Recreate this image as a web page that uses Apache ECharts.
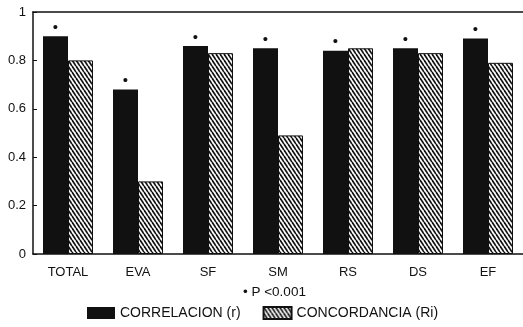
<!DOCTYPE html>
<html>
<head>
<meta charset="utf-8">
<script src="https://cdn.jsdelivr.net/npm/echarts@6/dist/echarts.min.js"></script>
<style>
html,body{margin:0;padding:0;background:#fff;}
#c{width:523px;height:327px;}
</style>
</head>
<body>
<div id="c"></div>
<script>
const categories = ['TOTAL', 'EVA', 'SF', 'SM', 'RS', 'DS', 'EF'];
const correlacion = [0.90, 0.68, 0.86, 0.85, 0.84, 0.85, 0.89];
const concordancia = [0.80, 0.30, 0.83, 0.49, 0.85, 0.83, 0.79];
const yTicks = [0, 0.2, 0.4, 0.6, 0.8, 1];

function makeHatch() {
  const w = 4, h = 6;
  const cv = document.createElement('canvas');
  cv.width = w; cv.height = h;
  const ctx = cv.getContext('2d');
  ctx.fillStyle = '#ffffff';
  ctx.fillRect(0, 0, w, h);
  ctx.strokeStyle = '#111111';
  ctx.lineWidth = 1.7;
  for (let o = -w; o <= w; o += w) {
    ctx.beginPath();
    ctx.moveTo(o, 0);
    ctx.lineTo(o + w, h);
    ctx.stroke();
  }
  return cv;
}
const hatch = { image: makeHatch(), repeat: 'repeat' };
const font = 'Liberation Sans, Arial, sans-serif';

const chart = echarts.init(document.getElementById('c'), null, { renderer: 'canvas' });
chart.setOption({
  animation: false,
  backgroundColor: '#ffffff',
  textStyle: { fontFamily: font, color: '#111' },
  grid: { left: 33, right: 0, top: 12, bottom: 73 },
  legend: {
    top: 306,
    left: 87,
    padding: 0,
    itemWidth: 28,
    itemHeight: 12,
    itemGap: 22,
    icon: 'rect',
    textStyle: { fontFamily: font, fontSize: 14, color: '#111' },
    data: ['CORRELACION (r)', 'CONCORDANCIA (Ri)']
  },
  graphic: [{
    type: 'text',
    left: 243,
    top: 285,
    style: { text: '• P <0.001', font: '13.5px ' + font, fill: '#111' }
  }],
  xAxis: [{
    type: 'category',
    data: categories,
    axisLine: { lineStyle: { color: '#111', width: 1.5 } },
    axisTick: { alignWithLabel: true, length: 3, lineStyle: { color: '#111' } },
    axisLabel: { fontSize: 13, color: '#111', margin: 12, fontFamily: font }
  }, {
    type: 'category',
    data: categories,
    position: 'top',
    axisLine: { show: true, lineStyle: { color: '#111', width: 1.5 } },
    axisTick: { show: false },
    axisLabel: { show: false }
  }],
  yAxis: {
    type: 'value',
    min: yTicks[0],
    max: yTicks[yTicks.length - 1],
    interval: 0.2,
    axisLine: { show: true, lineStyle: { color: '#111', width: 1.5 } },
    axisTick: { show: true, inside: true, length: 4, lineStyle: { color: '#111' } },
    splitLine: { show: false },
    axisLabel: { fontSize: 13, color: '#111', margin: 7, fontFamily: font }
  },
  series: [{
    name: 'CORRELACION (r)',
    type: 'bar',
    data: correlacion,
    barWidth: 25,
    barGap: '0%',
    itemStyle: { color: '#111111' },
    label: { show: true, position: 'top', formatter: '•', fontSize: 15, color: '#111', distance: 1 }
  }, {
    name: 'CONCORDANCIA (Ri)',
    type: 'bar',
    data: concordancia,
    barWidth: 25,
    barGap: '0%',
    itemStyle: { color: hatch, borderColor: '#111', borderWidth: 1 }
  }]
});
</script>
</body>
</html>
